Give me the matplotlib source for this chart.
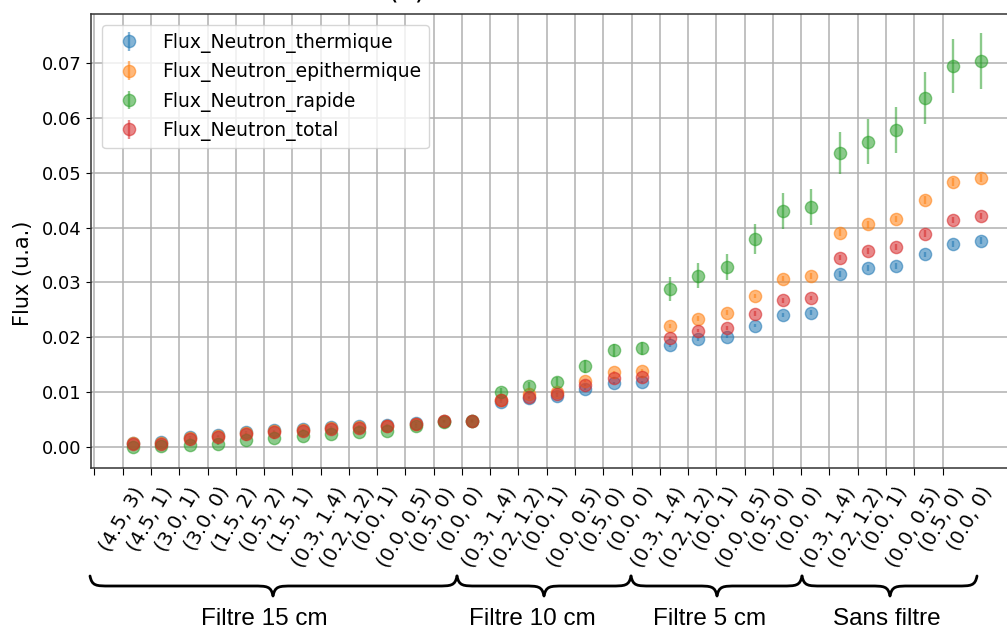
import matplotlib
matplotlib.use("Agg")
import matplotlib.pyplot as plt
from matplotlib.path import Path
from matplotlib.patches import PathPatch
import numpy as np

W, H = 1007, 628

labels = ["(4.5, 3)", "(4.5, 1)", "(3.0, 1)", "(3.0, 0)", "(1.5, 2)", "(0.5, 2)", "(1.5, 1)",
          "(0.3, 1.4)", "(0.2, 1.2)", "(0.0, 1)", "(0.0, 0.5)", "(0.5, 0)", "(0.0, 0)",
          "(0.3, 1.4)", "(0.2, 1.2)", "(0.0, 1)", "(0.0, 0.5)", "(0.5, 0)", "(0.0, 0)",
          "(0.3, 1.4)", "(0.2, 1.2)", "(0.0, 1)", "(0.0, 0.5)", "(0.5, 0)", "(0.0, 0)",
          "(0.3, 1.4)", "(0.2, 1.2)", "(0.0, 1)", "(0.0, 0.5)", "(0.5, 0)", "(0.0, 0)"]

thermique = [0.0007, 0.0008, 0.0018, 0.0021, 0.0027, 0.0030, 0.0032, 0.0036, 0.0038, 0.0040,
             0.0044, 0.0047, 0.0047, 0.0082, 0.0089, 0.0093, 0.0105, 0.0116, 0.0118,
             0.0185, 0.0196, 0.0201, 0.0221, 0.0241, 0.0245,
             0.0315, 0.0326, 0.0330, 0.0351, 0.0370, 0.0376]
epithermique = [0.0006, 0.0006, 0.0016, 0.0019, 0.0025, 0.0028, 0.0030, 0.0034, 0.0036, 0.0038,
                0.0042, 0.0047, 0.0047, 0.0086, 0.0096, 0.0099, 0.0120, 0.0136, 0.0139,
                0.0220, 0.0234, 0.0245, 0.0275, 0.0307, 0.0312,
                0.0391, 0.0406, 0.0416, 0.0450, 0.0483, 0.0490]
rapide = [0.0000, 0.0001, 0.0003, 0.0005, 0.0012, 0.0016, 0.0019, 0.0023, 0.0026, 0.0028,
          0.0038, 0.0046, 0.0047, 0.0100, 0.0111, 0.0119, 0.0147, 0.0176, 0.0180,
          0.0288, 0.0312, 0.0328, 0.0379, 0.0431, 0.0438,
          0.0536, 0.0557, 0.0578, 0.0637, 0.0695, 0.0704]
total = [0.0005, 0.0005, 0.0015, 0.0018, 0.0024, 0.0027, 0.0029, 0.0032, 0.0035, 0.0037,
         0.0041, 0.0047, 0.0047, 0.0085, 0.0091, 0.0096, 0.0112, 0.0126, 0.0127,
         0.0198, 0.0212, 0.0217, 0.0243, 0.0267, 0.0271,
         0.0345, 0.0357, 0.0365, 0.0389, 0.0414, 0.0421]

err_thermique = [0.0000, 0.0000, 0.0001, 0.0001, 0.0001, 0.0001, 0.0001, 0.0001, 0.0001, 0.0001,
                 0.0001, 0.0001, 0.0001, 0.0002, 0.0002, 0.0002, 0.0002, 0.0002, 0.0002,
                 0.0003, 0.0003, 0.0003, 0.0003, 0.0004, 0.0004,
                 0.0005, 0.0005, 0.0005, 0.0005, 0.0006, 0.0006]
err_epithermique = [0.0000, 0.0000, 0.0001, 0.0001, 0.0001, 0.0001, 0.0001, 0.0001, 0.0001, 0.0001,
                    0.0001, 0.0001, 0.0001, 0.0002, 0.0002, 0.0002, 0.0002, 0.0003, 0.0003,
                    0.0004, 0.0004, 0.0004, 0.0004, 0.0005, 0.0005,
                    0.0006, 0.0006, 0.0006, 0.0007, 0.0007, 0.0007]
err_rapide = [0.0000, 0.0001, 0.0001, 0.0001, 0.0001, 0.0002, 0.0002, 0.0002, 0.0002, 0.0002,
              0.0003, 0.0003, 0.0003, 0.0007, 0.0008, 0.0008, 0.0012, 0.0012, 0.0012,
              0.0022, 0.0023, 0.0024, 0.0027, 0.0033, 0.0033,
              0.0039, 0.0041, 0.0042, 0.0047, 0.0050, 0.0051]
err_total = [0.0000, 0.0000, 0.0001, 0.0001, 0.0001, 0.0001, 0.0001, 0.0001, 0.0001, 0.0001,
             0.0001, 0.0001, 0.0001, 0.0002, 0.0002, 0.0002, 0.0002, 0.0002, 0.0002,
             0.0003, 0.0003, 0.0003, 0.0004, 0.0004, 0.0004,
             0.0005, 0.0005, 0.0005, 0.0006, 0.0006, 0.0006]

series = [("Flux_Neutron_thermique", thermique, err_thermique),
          ("Flux_Neutron_epithermique", epithermique, err_epithermique),
          ("Flux_Neutron_rapide", rapide, err_rapide),
          ("Flux_Neutron_total", total, err_total)]

groups = ["Filtre 15 cm", "Filtre 10 cm", "Filtre 5 cm", "Sans filtre"]

fig = plt.figure(figsize=(W / 100, H / 100), dpi=100)
ax_left, ax_top, ax_bottom, ax_right = 91, 14, 468.3, 1017
ax = fig.add_axes([ax_left / W, 1 - ax_bottom / H, (ax_right - ax_left) / W, (ax_bottom - ax_top) / H])

x = np.arange(len(labels))
for name, vals, errs in series:
    ax.errorbar(x, vals, yerr=errs, fmt='o', markersize=8.8, alpha=0.55,
                elinewidth=1.7, label=name)

ax.set_ylim(-0.00394, 0.0790)
ax.set_xlim(-1.486, -1.486 + (ax_right - ax_left) / 28.27)

# grid ticks (offset from data positions, as in the original)
major = np.arange(len(labels)) - 1.365
ax.set_xticks(major)
ax.set_xticklabels([])
ax.set_xticks(np.arange(len(labels)) - 0.4, minor=True)
ax.set_xticklabels(labels, minor=True, rotation=60, fontsize=14)
ax.tick_params(axis='x', which='minor', length=0, pad=11)
ax.tick_params(axis='x', which='major', length=5)

ax.set_yticks(np.arange(0, 0.071, 0.01))
ax.set_yticklabels([f"{v:.2f}" for v in np.arange(0, 0.071, 0.01)], fontsize=13)
ax.grid(True, which='major', color='#b0b0b0', linewidth=1.1)
ax.set_axisbelow(True)
for s in ax.spines.values():
    s.set_color('#333333')
    s.set_linewidth(1.1)

ax.legend(loc='upper left', fontsize=13.5, borderaxespad=0.6)

fig.text(23 / W, 1 - 273 / H, "Flux (u.a.)", rotation=90, ha='center', va='center', fontsize=15)
fig.text(407 / W, 1 + 1.5 / H, "(a)", ha='center', va='baseline', fontsize=20)

# curly braces below the axis
def px(xp, yp):
    return (xp / W, 1 - yp / H)

def brace(x0, x1, xm, ytop=576, ymid=586, ytip=596, r=20):
    verts = [px(x0, ytop),
             px(x0 + 2, ymid), px(x0 + 6, ymid), px(x0 + r, ymid),
             px(xm - r, ymid),
             px(xm - 6, ymid), px(xm - 2, ymid), px(xm, ytip),
             px(xm + 2, ymid), px(xm + 6, ymid), px(xm + r, ymid),
             px(x1 - r, ymid),
             px(x1 - 6, ymid), px(x1 - 2, ymid), px(x1, ytop)]
    codes = [Path.MOVETO,
             Path.CURVE4, Path.CURVE4, Path.CURVE4,
             Path.LINETO,
             Path.CURVE4, Path.CURVE4, Path.CURVE4,
             Path.CURVE4, Path.CURVE4, Path.CURVE4,
             Path.LINETO,
             Path.CURVE4, Path.CURVE4, Path.CURVE4]
    patch = PathPatch(Path(verts, codes), transform=fig.transFigure, facecolor='none',
                      edgecolor='black', linewidth=2.0, capstyle='round', joinstyle='round')
    fig.patches.append(patch)

bounds = [90, 457, 631, 802, 977]
tips = [273, 544, 717, 890]
text_x = [264, 532, 710, 887]
for i, g in enumerate(groups):
    brace(bounds[i], bounds[i + 1], tips[i])
    fig.text(text_x[i] / W, 1 - 625 / H, g, ha='center', va='baseline',
             fontsize=17.5, family='Liberation Sans')

fig.savefig("out.png", dpi=100)
